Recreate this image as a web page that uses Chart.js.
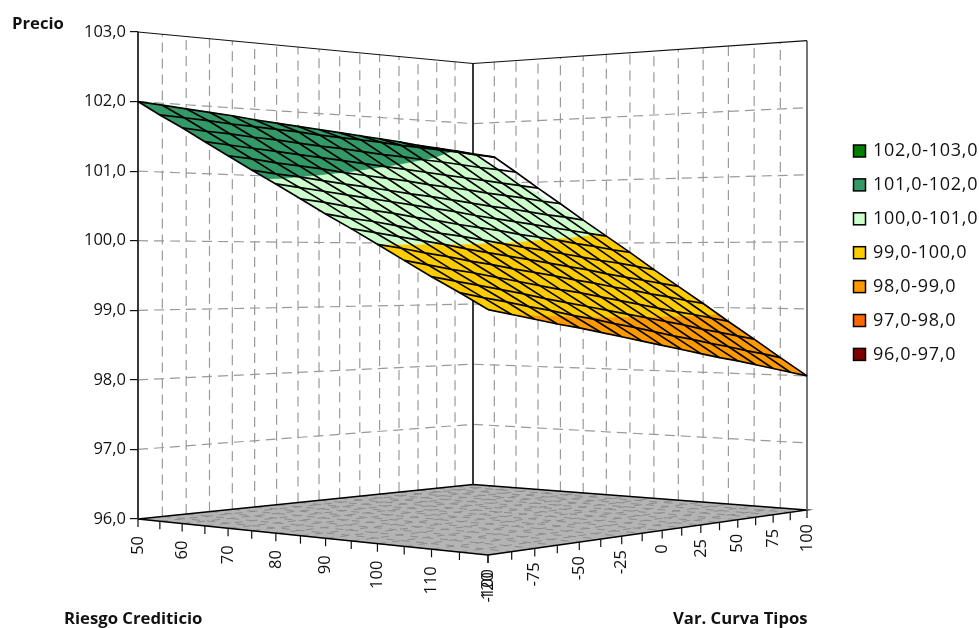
<!DOCTYPE html>
<html>
<head>
<meta charset="utf-8">
<style>
  html, body { margin: 0; padding: 0; background: #fff; }
  #wrap { position: relative; width: 979px; height: 628px; }
</style>
<script src="https://cdn.jsdelivr.net/npm/chart.js@4/dist/chart.umd.min.js"></script>
</head>
<body>
<div id="wrap"><canvas id="surface" width="979" height="628"></canvas></div>
<script>
// Datos
const riskValues = [50, 55, 60, 65, 70, 75, 80, 85, 90, 95, 100, 105, 110, 115, 120];
const curveValues = [-100, -87.5, -75, -62.5, -50, -37.5, -25, -12.5, 0, 12.5, 25, 37.5, 50, 62.5, 75, 87.5, 100];
// una fila por cada valor de riesgo, una columna por cada valor de curva
const priceRows = [
  [102.00, 101.97, 101.94, 101.91, 101.88, 101.84, 101.81, 101.78, 101.75, 101.72, 101.69, 101.66, 101.63, 101.59, 101.56, 101.53, 101.50],
  [101.79, 101.77, 101.75, 101.72, 101.70, 101.68, 101.66, 101.63, 101.61, 101.59, 101.57, 101.54, 101.52, 101.50, 101.48, 101.45, 101.43],
  [101.59, 101.56, 101.54, 101.51, 101.49, 101.46, 101.43, 101.41, 101.38, 101.35, 101.33, 101.30, 101.28, 101.25, 101.22, 101.20, 101.17],
  [101.38, 101.35, 101.32, 101.29, 101.26, 101.23, 101.20, 101.17, 101.14, 101.11, 101.08, 101.05, 101.02, 100.99, 100.96, 100.93, 100.90],
  [101.17, 101.14, 101.10, 101.07, 101.04, 101.00, 100.97, 100.94, 100.91, 100.87, 100.84, 100.81, 100.77, 100.74, 100.71, 100.67, 100.64],
  [100.96, 100.92, 100.89, 100.85, 100.81, 100.78, 100.74, 100.70, 100.67, 100.63, 100.59, 100.55, 100.52, 100.48, 100.44, 100.41, 100.37],
  [100.76, 100.72, 100.68, 100.64, 100.60, 100.56, 100.52, 100.48, 100.44, 100.39, 100.35, 100.31, 100.27, 100.23, 100.19, 100.15, 100.11],
  [100.55, 100.51, 100.46, 100.42, 100.38, 100.33, 100.29, 100.24, 100.20, 100.16, 100.11, 100.07, 100.03, 99.98, 99.94, 99.89, 99.85],
  [100.34, 100.29, 100.25, 100.20, 100.15, 100.10, 100.06, 100.01, 99.96, 99.91, 99.87, 99.82, 99.77, 99.72, 99.68, 99.63, 99.58],
  [100.14, 100.09, 100.04, 99.99, 99.94, 99.88, 99.83, 99.78, 99.73, 99.68, 99.63, 99.58, 99.52, 99.47, 99.42, 99.37, 99.32],
  [99.93, 99.88, 99.82, 99.77, 99.71, 99.66, 99.60, 99.55, 99.50, 99.44, 99.39, 99.33, 99.28, 99.22, 99.17, 99.11, 99.06],
  [99.72, 99.66, 99.60, 99.55, 99.49, 99.43, 99.37, 99.31, 99.26, 99.20, 99.14, 99.08, 99.02, 98.96, 98.91, 98.85, 98.79],
  [99.51, 99.45, 99.39, 99.33, 99.27, 99.20, 99.14, 99.08, 99.02, 98.96, 98.90, 98.84, 98.78, 98.71, 98.65, 98.59, 98.53],
  [99.31, 99.24, 99.18, 99.11, 99.05, 98.98, 98.92, 98.85, 98.79, 98.72, 98.65, 98.59, 98.52, 98.46, 98.39, 98.33, 98.26],
  [99.10, 99.03, 98.96, 98.89, 98.83, 98.76, 98.69, 98.62, 98.55, 98.48, 98.41, 98.34, 98.28, 98.21, 98.14, 98.07, 98.00]
];
const priceTicks = [96, 97, 98, 99, 100, 101, 102, 103];
const riskTicks = [50, 60, 70, 80, 90, 100, 110, 120];
const curveTicks = [-100, -75, -50, -25, 0, 25, 50, 75, 100];
const bandLabels = ['102,0-103,0', '101,0-102,0', '100,0-101,0', '99,0-100,0', '98,0-99,0', '97,0-98,0', '96,0-97,0'];
const bandColors = ['#008000', '#339966', '#CCFFCC', '#FFCC00', '#FF9900', '#FF6600', '#800000'];
// riesgo en el que cambia de color la superficie, para tres valores de la curva
const cutCurves = [-100, 50, 100];
const bandCut101 = [78.4, 58.5, 50];
const bandCut100 = [100.2, 84.6, 79.4];
const bandCut99 = [121.2, 107.6, 103.1];

// Vista: esquinas del suelo en pantalla (izquierda, frente, derecha, fondo)
const floorCorners = [[138, 519], [488, 555], [807, 510], [473, 484.5]];
const unitHeight = 69.57;
const depthPower = 0.9;
const areaLeft = 138, areaRight = 807, areaTop = 32, areaBottom = 559;
const yMin = 96 - (areaBottom - floorCorners[0][1]) / unitHeight;

const riskMin = riskValues[0], riskMax = riskValues[riskValues.length - 1];
const curveMin = curveValues[0], curveMax = curveValues[curveValues.length - 1];

// homografia del cuadrado unidad al suelo
const [p0, p1, p2, p3] = floorCorners;
const dx1 = p1[0] - p2[0], dx2 = p3[0] - p2[0], sx = p0[0] - p1[0] + p2[0] - p3[0];
const dy1 = p1[1] - p2[1], dy2 = p3[1] - p2[1], sy = p0[1] - p1[1] + p2[1] - p3[1];
const den = dx1 * dy2 - dx2 * dy1;
const g = (sx * dy2 - dx2 * sy) / den;
const h = (dx1 * sy - sx * dy1) / den;

function project(risk, curve, price) {
  const u = (risk - riskMin) / (riskMax - riskMin);
  const v = (curve - curveMin) / (curveMax - curveMin);
  const w = 1 + g * u + h * v;
  const x = ((p1[0] * (1 + g) - p0[0]) * u + (p3[0] * (1 + h) - p0[0]) * v + p0[0]) / w;
  const yFloor = ((p1[1] * (1 + g) - p0[1]) * u + (p3[1] * (1 + h) - p0[1]) * v + p0[1]) / w;
  const yScreen = yFloor - (price - 96) * unitHeight / Math.pow(w, depthPower);
  return { x: x, y: 96 + (p0[1] - yScreen) / unitHeight };
}

// precio en cualquier punto de la malla
function priceAt(risk, curve) {
  const fi = Math.min((risk - riskMin) / 5, riskValues.length - 1.001);
  const fj = Math.min((curve - curveMin) / 12.5, curveValues.length - 1.001);
  const i = Math.floor(fi), j = Math.floor(fj);
  const a = fi - i, b = fj - j;
  return priceRows[i][j] * (1 - a) * (1 - b) + priceRows[i + 1][j] * a * (1 - b) +
    priceRows[i][j + 1] * (1 - a) * b + priceRows[i + 1][j + 1] * a * b;
}

function line(points, color, width, dash) {
  return {
    data: points, showLine: true, pointRadius: 0, borderColor: color, borderWidth: width,
    borderDash: dash || [], fill: false, clip: false, tension: 0
  };
}

function shape(points, color) {
  return {
    data: points, showLine: true, pointRadius: 0, borderColor: color, borderWidth: 0.5,
    backgroundColor: color, fill: 'shape', clip: false, tension: 0
  };
}

const layers = [];
const gridDash = [10, 6];
const gridColor = '#9a9a9a';

// Paredes
priceTicks.slice(1, -1).forEach(p => {
  layers.push(line([project(riskMin, curveMin, p), project(riskMin, curveMax, p), project(riskMax, curveMax, p)], gridColor, 1.2, gridDash));
});
curveValues.slice(1, -1).forEach(c => {
  layers.push(line([project(riskMin, c, 96), project(riskMin, c, 103)], gridColor, 1.2, gridDash));
});
riskValues.slice(1, -1).forEach(r => {
  layers.push(line([project(r, curveMax, 96), project(r, curveMax, 103)], gridColor, 1.2, gridDash));
});

// Suelo
const floorOutline = [project(riskMin, curveMin, 96), project(riskMax, curveMin, 96), project(riskMax, curveMax, 96), project(riskMin, curveMax, 96)];
layers.push(shape(floorOutline, '#b4b4b4'));
curveValues.slice(1, -1).forEach(c => {
  layers.push(line([project(riskMin, c, 96), project(riskMax, c, 96)], '#8c8c8c', 1, [8, 7]));
});
riskValues.slice(1, -1).forEach(r => {
  layers.push(line([project(r, curveMin, 96), project(r, curveMax, 96)], '#8c8c8c', 1, [8, 7]));
});
layers.push(line(floorOutline.concat([floorOutline[0]]), '#000', 1.4));

// Marco
layers.push(line([project(riskMin, curveMin, 96), project(riskMin, curveMin, 103)], '#222', 1.8));
layers.push(line([project(riskMin, curveMax, 96), project(riskMin, curveMax, 103)], '#222', 1.8));
layers.push(line([project(riskMax, curveMax, 96), project(riskMax, curveMax, 103)], '#666', 1.8));
layers.push(line([project(riskMin, curveMin, 103), project(riskMin, curveMax, 103), project(riskMax, curveMax, 103)], '#111', 1.2));

// Marcas de los ejes inferiores
const tickDrop = 8 / unitHeight;
function tickSegment(risk, curve) {
  const a = project(risk, curve, 96);
  return [a, { x: a.x, y: a.y - tickDrop }];
}
riskValues.forEach(r => layers.push(line(tickSegment(r, curveMin), '#111', 1.2)));
curveValues.forEach(c => layers.push(line(tickSegment(riskMax, c), '#111', 1.2)));

// Bandas de color de la superficie
const bandCuts = [bandCut101, bandCut100, bandCut99];
function cutRisk(k, curve) {
  if (k < 0) return riskMin;
  if (k >= bandCuts.length) return riskMax;
  const s = curve <= cutCurves[1] ? 0 : 1;
  const t = (curve - cutCurves[s]) / (cutCurves[s + 1] - cutCurves[s]);
  const r = bandCuts[k][s] + (bandCuts[k][s + 1] - bandCuts[k][s]) * t;
  return Math.max(riskMin, Math.min(riskMax, r));
}
for (let k = 0; k <= bandCuts.length; k++) {
  const forward = curveValues.map(c => { const r = cutRisk(k - 1, c); return project(r, c, priceAt(r, c)); });
  const back = curveValues.slice().reverse().map(c => { const r = cutRisk(k, c); return project(r, c, priceAt(r, c)); });
  layers.push(shape(forward.concat(back), bandColors[k + 1]));
}

// Malla
riskValues.forEach((r, i) => {
  layers.push(line(curveValues.map((c, j) => project(r, c, priceRows[i][j])), '#000', 1.7));
});
curveValues.forEach((c, j) => {
  layers.push(line(riskValues.map((r, i) => project(r, c, priceRows[i][j])), '#000', 1.7));
});

// el primer dataset se dibuja encima
const datasets = layers.reverse();

const labelFont = '"Open Sans", sans-serif';

const axisText = {
  id: 'axisText',
  afterDraw(chart) {
    const ctx = chart.ctx, xs = chart.scales.x, ys = chart.scales.y;
    ctx.save();
    ctx.fillStyle = '#111';
    ctx.font = '16.5px ' + labelFont;
    ctx.textAlign = 'right';
    ctx.textBaseline = 'middle';
    function vertical(text, pt, gap) {
      ctx.save();
      ctx.translate(xs.getPixelForValue(pt.x), ys.getPixelForValue(pt.y) + 8 + gap);
      ctx.rotate(-Math.PI / 2);
      ctx.fillText(text, 0, 0);
      ctx.restore();
    }
    riskTicks.forEach(r => vertical(String(r), project(r, curveMin, 96), 9));
    curveTicks.forEach(c => vertical(String(c), project(riskMax, c, 96), 6));

    ctx.textAlign = 'left';
    ctx.font = 'bold 16.7px ' + labelFont;
    ctx.fillText('Precio', 12, 24);
    ctx.fillText('Riesgo Crediticio', 64, 619);
    ctx.fillText('Var. Curva Tipos', 673, 619);

    // Leyenda
    ctx.font = '18px ' + labelFont;
    ctx.letterSpacing = '0.7px';
    bandLabels.forEach((label, k) => {
      const y = 151 + 33.9 * k;
      ctx.fillStyle = bandColors[k];
      ctx.fillRect(853.5, y - 6, 12, 12);
      ctx.strokeStyle = '#000';
      ctx.lineWidth = 1.5;
      ctx.strokeRect(853.5, y - 6, 12, 12);
      ctx.fillStyle = '#111';
      ctx.fillText(label, 873, y);
    });
    ctx.restore();
  }
};

new Chart(document.getElementById('surface').getContext('2d'), {
  type: 'scatter',
  data: { datasets: datasets },
  plugins: [axisText],
  options: {
    responsive: false,
    animation: false,
    layout: { padding: { left: 0, right: 979 - areaRight, top: areaTop, bottom: 628 - areaBottom } },
    plugins: { legend: { display: false }, tooltip: { enabled: false } },
    scales: {
      x: { type: 'linear', min: areaLeft, max: areaRight, display: false },
      y: {
        type: 'linear', min: yMin, max: 103,
        afterFit(scale) { scale.width = areaLeft; },
        afterBuildTicks(scale) { scale.ticks = priceTicks.map(v => ({ value: v })); },
        border: { display: false },
        grid: { drawOnChartArea: false, color: '#111', tickLength: 8, lineWidth: 1.2 },
        ticks: {
          autoSkip: false, padding: 4, color: '#111',
          font: { family: 'Open Sans', size: 16.5 },
          callback: v => v.toFixed(1).replace('.', ',')
        }
      }
    }
  }
});
</script>
</body>
</html>
